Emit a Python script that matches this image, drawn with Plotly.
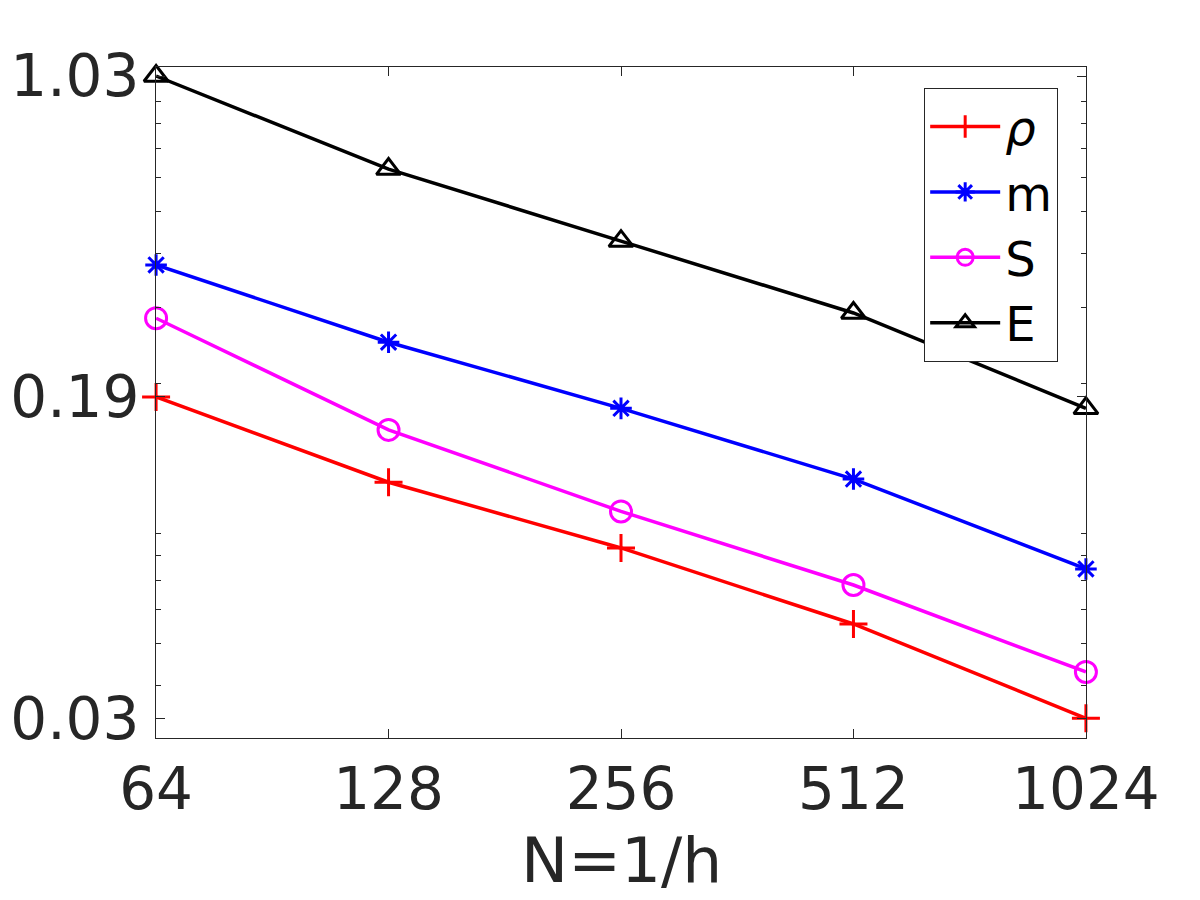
import math
import plotly.graph_objects as go

# mesh sizes N = 1/h
N = [64, 128, 256, 512, 1024]

# errors (log scale)
err_rho = [0.186, 0.118, 0.0831, 0.0554, 0.0335]
err_m = [0.376, 0.249, 0.175, 0.120, 0.0743]
err_S = [0.283, 0.156, 0.101, 0.0682, 0.0429]
err_E = [1.03, 0.627, 0.427, 0.291, 0.175]

ytick_vals = [err_rho[-1], err_rho[0], err_E[0]]
ytick_text = ["0.03", "0.19", "1.03"]
yminor_vals = [0.04, 0.05, 0.06, 0.07, 0.08, 0.09,
               0.2, 0.3, 0.4, 0.5, 0.6, 0.7, 0.8, 0.9]

axis_col = "#262626"
font = "DejaVu Sans"

fig = go.Figure()

series = [
    ("<i>ρ</i>", err_rho, "#ff0000", "cross-thin-open", 20),
    ("m", err_m, "#0000ff", "asterisk-open", 18),
    ("S", err_S, "#ff00ff", "circle-open", 21),
    ("E", err_E, "#000000", "triangle-up-open", 21),
]
for name, vals, col, sym, sz in series:
    fig.add_trace(go.Scatter(
        x=N, y=vals, name=name, mode="lines+markers",
        line=dict(color=col, width=3.5),
        marker=dict(symbol=sym, size=sz, color=col, line=dict(color=col, width=3)),
        cliponaxis=False,
    ))

# page body has an 8px margin, so shift margins to compensate
fig.update_layout(
    width=1200, height=900,
    margin=dict(l=148, r=122, t=59, b=170),
    plot_bgcolor="white", paper_bgcolor="white",
    font=dict(family=font, size=58, color=axis_col),
    showlegend=True,
    legend=dict(
        x=0.826, y=0.969, xanchor="left", yanchor="top",
        bgcolor="white", bordercolor=axis_col, borderwidth=1,
        font=dict(size=48, color="#000000"),
        tracegroupgap=0, itemwidth=70,
    ),
)

fig.add_annotation(
    text="N=1/h", x=0.5, y=-0.183, xref="paper", yref="paper",
    xanchor="center", yanchor="middle", showarrow=False,
    font=dict(size=63, color=axis_col),
)

fig.update_xaxes(
    type="log", range=[math.log10(64) - 1e-4, math.log10(1024) + 1e-4],
    tickmode="array", tickvals=N, ticktext=[str(n) for n in N],
    ticks="inside", ticklen=9, tickcolor=axis_col,
    showline=True, linecolor=axis_col, linewidth=1, mirror="allticks",
    showgrid=False, zeroline=False, automargin=False,
)

fig.update_yaxes(
    type="log", range=[-1.5206, 0.0337],
    tickmode="array", tickvals=ytick_vals, ticktext=ytick_text,
    ticks="inside", ticklen=9, tickcolor=axis_col,
    minor=dict(tickvals=yminor_vals, ticks="inside", ticklen=5, tickcolor=axis_col),
    showline=True, linecolor=axis_col, linewidth=1, mirror="allticks",
    showgrid=False, zeroline=False, ticklabelstandoff=4, automargin=False,
)

fig.write_html("out.html")
